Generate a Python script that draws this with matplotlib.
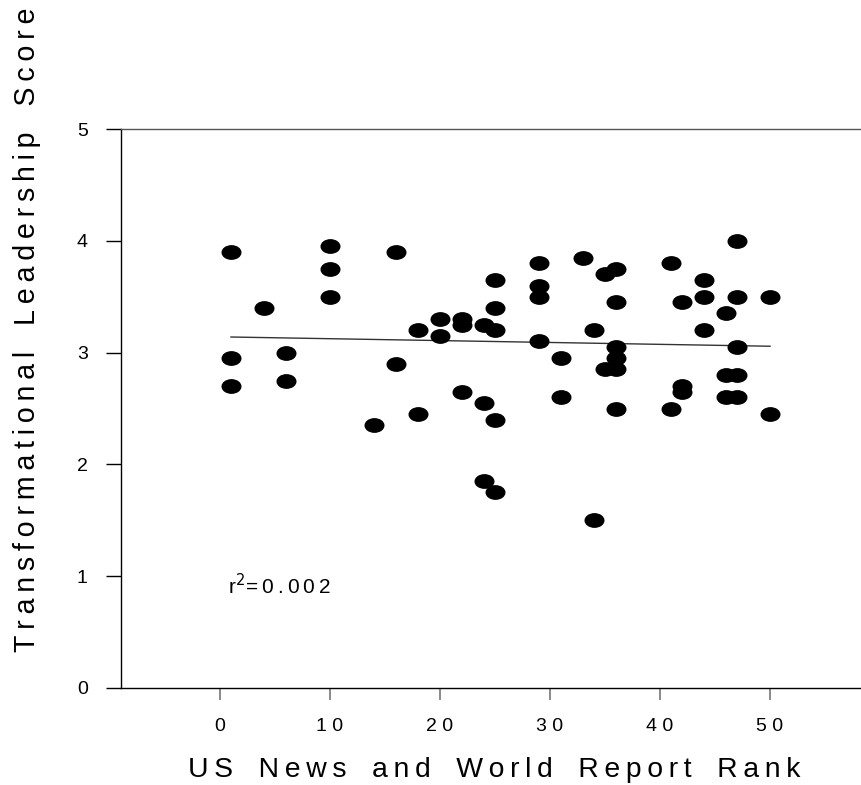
import numpy as np
import matplotlib
matplotlib.use("Agg")
import matplotlib.pyplot as plt
from matplotlib.path import Path
from matplotlib.transforms import Affine2D

plt.rcParams['font.family'] = ['Liberation Sans', 'DejaVu Sans']

# US News rank vs leadership score
rank = [1, 4, 10, 10, 10, 1, 6, 1, 6,
        16, 29, 33, 35, 25, 29, 29, 25, 20, 22, 22, 18, 24, 25, 34, 20, 29,
        16, 31, 22, 31, 24, 18, 14, 25, 24, 25, 34,
        47, 41, 36, 44, 36, 42, 44, 47, 50, 46, 44, 36, 47, 36, 36, 35,
        46, 47, 42, 42, 46, 47, 36, 41, 50]
score = [3.90, 3.40, 3.95, 3.75, 3.50, 2.95, 3.00, 2.70, 2.75,
         3.90, 3.80, 3.85, 3.70, 3.65, 3.60, 3.50, 3.40, 3.30, 3.30, 3.25, 3.20, 3.25, 3.20, 3.20, 3.15, 3.10,
         2.90, 2.95, 2.65, 2.60, 2.55, 2.45, 2.35, 2.40, 1.85, 1.75, 1.50,
         4.00, 3.80, 3.75, 3.65, 3.45, 3.45, 3.50, 3.50, 3.50, 3.35, 3.20, 3.05, 3.05, 2.95, 2.85, 2.85,
         2.80, 2.80, 2.70, 2.65, 2.60, 2.60, 2.50, 2.50, 2.45]
x_ticks = [0, 10, 20, 30, 40, 50]
y_ticks = [0, 1, 2, 3, 4, 5]
r2_text = "0.002"
x_label = "US News and World Report Rank"
y_label = "Transformational Leadership Score"

TS = "\u2009"  # thin space, to imitate the wide letter spacing


def spaced(s, word_gap="\u2002"):
    return TS.join(s.replace(" ", word_gap))


rank = np.array(rank, dtype=float)
score = np.array(score, dtype=float)

W, H = 862, 785
fig = plt.figure(figsize=(W / 100, H / 100), dpi=100)
ax = fig.add_axes([121 / W, 97 / H, 741 / W, 559 / H])

# wide ellipse marker
ell = Path.unit_circle().transformed(Affine2D().scale(1.0, 0.74))
ax.scatter(rank, score, marker=ell, s=14.4 ** 2, color="black", linewidths=0, zorder=3)

# regression line across the data range
slope, icpt = np.polyfit(rank, score, 1)
xs = np.array([rank.min(), rank.max()])
ax.plot(xs, icpt + slope * xs, color="#333333", lw=1.0, zorder=2)

ax.text(0.7, 0.92, "r$^2$" + spaced("=" + r2_text), fontsize=15, ha="left", va="center")

ax.set_xlim(-9, 58.36)
ax.set_ylim(0, 5)
ax.set_xticks(x_ticks)
ax.set_xticklabels([" ".join(str(v)) for v in x_ticks], fontsize=14)
ax.set_yticks(y_ticks)
ax.set_yticklabels([str(v) for v in y_ticks], fontsize=14)
ax.tick_params(axis="x", direction="out", length=8.6, width=1.2, color="#777777", pad=13)
ax.tick_params(axis="y", direction="out", length=11, width=1.0, color="black", pad=13)

ax.spines["right"].set_visible(False)
ax.spines["top"].set_color("#555555")
for s in ("left", "bottom", "top"):
    ax.spines[s].set_linewidth(1.0)

fig.text(494 / W, 1 - 777 / H, spaced(x_label), fontsize=20.4, ha="center", va="baseline")
fig.text(27 / W, 1 - 330 / H, spaced(y_label), fontsize=20.6, rotation=90,
         ha="center", va="center")

fig.savefig("out.png", dpi=100)
